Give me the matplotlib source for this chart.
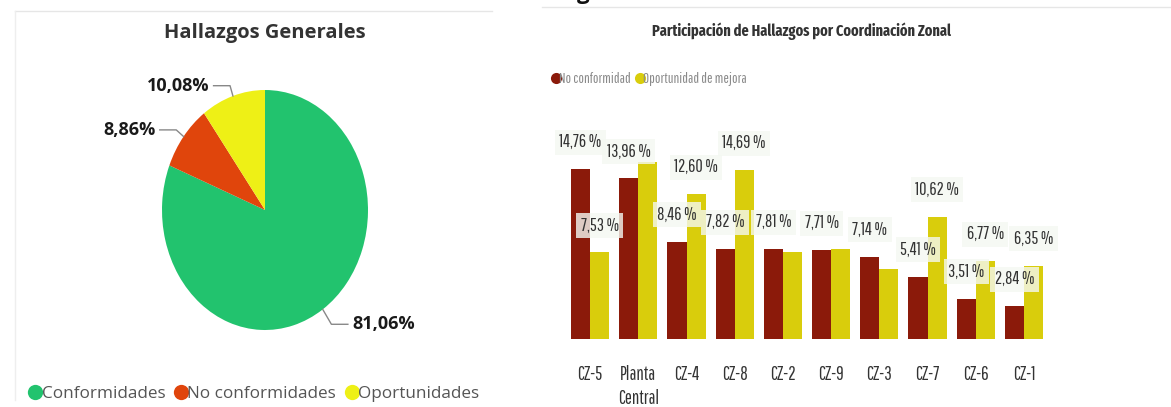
import numpy as np
import matplotlib.pyplot as plt
from matplotlib.lines import Line2D

# pie data
pie_labels = ['Conformidades', 'No conformidades', 'Oportunidades']
pie_values = [81.06, 8.86, 10.08]
pie_colors = ['#22c36e', '#e0450c', '#eef016']

# bar data
zonas = ['CZ-5', 'Planta\nCentral', 'CZ-4', 'CZ-8', 'CZ-2', 'CZ-9', 'CZ-3', 'CZ-7', 'CZ-6', 'CZ-1']
no_conf = [14.76, 13.96, 8.46, 7.82, 7.81, 7.71, 7.14, 5.41, 3.51, 2.84]
oport = [7.53, 15.39, 12.60, 14.69, 7.58, 7.79, 6.12, 10.62, 6.77, 6.35]
oport_hidden = [1, 4, 5, 6]  # labels power bi did not show
series_names = ['No conformidad', 'Oportunidad de mejora']
bar_colors = ['#8b1a0a', '#d9cd0c']

W, H = 1171, 407
fig = plt.figure(figsize=(W / 100, H / 100), dpi=100)
fig.patch.set_facecolor('white')

def px(x0, y0, w, h):
    # image pixel box (top-left origin) -> figure fraction
    return [x0 / W, 1 - (y0 + h) / H, w / W, h / H]

narrow = ['Pathway Gothic One', 'DejaVu Sans']
narrow_t = ['Fira Sans Extra Condensed', 'DejaVu Sans']
sans = ['Open Sans', 'DejaVu Sans']

# panel frame lines
fig.add_artist(Line2D([15 / W, 492 / W], [1 - 11 / H, 1 - 11 / H], color='#e6e6e6', lw=1))
fig.add_artist(Line2D([15 / W, 15 / W], [1 - 11 / H, 1 - 400 / H], color='#eeeeee', lw=1))
fig.add_artist(Line2D([542 / W, 1171 / W], [1 - 7 / H, 1 - 7 / H], color='#e6e6e6', lw=1))
fig.text(583 / W, 1 + 6 / H, 'g', fontsize=16, fontweight='bold', family=sans,
         ha='center', va='center', color='#111111')

# ---- pie ----
ax = fig.add_axes(px(162, 90, 206, 240))
wedges, _ = ax.pie(pie_values, colors=pie_colors, startangle=90, counterclock=False,
                   wedgeprops=dict(linewidth=0))
ax.set_aspect('auto')
ax.set_xlim(-1, 1)
ax.set_ylim(-1, 1)
ax.axis('off')

for w, v in zip(wedges, pie_values):
    ang = np.deg2rad((w.theta1 + w.theta2) / 2)
    c, s = np.cos(ang), np.sin(ang)
    sign = 1 if c > 0 else -1
    r1 = 1.09 if s > 0 else 1.15
    p0 = (1.0 * c, 1.0 * s)
    p1 = (r1 * c, r1 * s)
    p2 = (p1[0] + sign * 0.16, p1[1])
    ax.plot([p0[0], p1[0], p2[0]], [p0[1], p1[1], p2[1]], color='#888888', lw=1, clip_on=False)
    ax.text(p2[0] + sign * 0.04, p2[1], f'{v:.2f}%'.replace('.', ','), ha='left' if sign > 0 else 'right',
            va='center', fontsize=13, fontweight='bold', family=sans, color='#1a1a1a', clip_on=False)

fig.text(265 / W, 1 - 33 / H, 'Hallazgos Generales', ha='center', va='center', fontsize=14.5,
         fontweight='bold', family=sans, color='#333333')

handles = [Line2D([], [], marker='o', ls='', markersize=11, markerfacecolor=c, markeredgewidth=0)
           for c in pie_colors]
fig.legend(handles, pie_labels, loc='center', bbox_to_anchor=(252 / W, 1 - 394 / H), ncol=3,
           frameon=False, handletextpad=-0.2, columnspacing=0.3, handlelength=1.2,
           prop=dict(family=sans, size=12.3), labelcolor='#555555')

# ---- bars ----
bx = fig.add_axes(px(566, 109, 482, 230))
x = np.arange(len(zonas))
bw = 0.395
bx.bar(x - bw / 2, no_conf, bw, color=bar_colors[0])
bx.bar(x + bw / 2, oport, bw, color=bar_colors[1])
bx.set_xlim(-0.5, len(zonas) - 0.5)
bx.set_ylim(0, 20)
for sp in bx.spines.values():
    sp.set_visible(False)
bx.set_yticks([])
bx.set_xticks(x)
bx.set_xticklabels(zonas, family=narrow, fontsize=13.5, color='#333333', va='top', linespacing=1.3)
bx.tick_params(axis='x', length=0, pad=19)

box = dict(boxstyle='square,pad=0.25', facecolor='#f4f8f2', edgecolor='none', alpha=0.8)
for i, (r, yv) in enumerate(zip(no_conf, oport)):
    bx.annotate(f'{r:.2f} %'.replace('.', ','), (x[i] - bw / 2, r), xytext=(0, 27),
                textcoords='offset pixels', ha='center', va='center', fontsize=13,
                family=narrow, color='#333333', bbox=box)
    if i not in oport_hidden:
        bx.annotate(f'{yv:.2f} %'.replace('.', ','), (x[i] + bw / 2, yv), xytext=(0, 27),
                    textcoords='offset pixels', ha='center', va='center', fontsize=13,
                    family=narrow, color='#333333', bbox=box)

fig.text(802 / W, 1 - 31 / H, 'Participación de Hallazgos por Coordinación Zonal', ha='center',
         va='center', fontsize=11.2, fontweight='bold', family=narrow_t, color='#333333')

handles2 = [Line2D([], [], marker='o', ls='', markersize=8, markerfacecolor=c, markeredgewidth=0)
            for c in bar_colors]
fig.legend(handles2, series_names, loc='center left', bbox_to_anchor=(536 / W, 1 - 79 / H), ncol=2,
           frameon=False, handletextpad=-0.3, columnspacing=0.1, handlelength=1.0,
           prop=dict(family=narrow, size=10.5), labelcolor='#8a8a8a')

fig.savefig('out.png', dpi=100)
